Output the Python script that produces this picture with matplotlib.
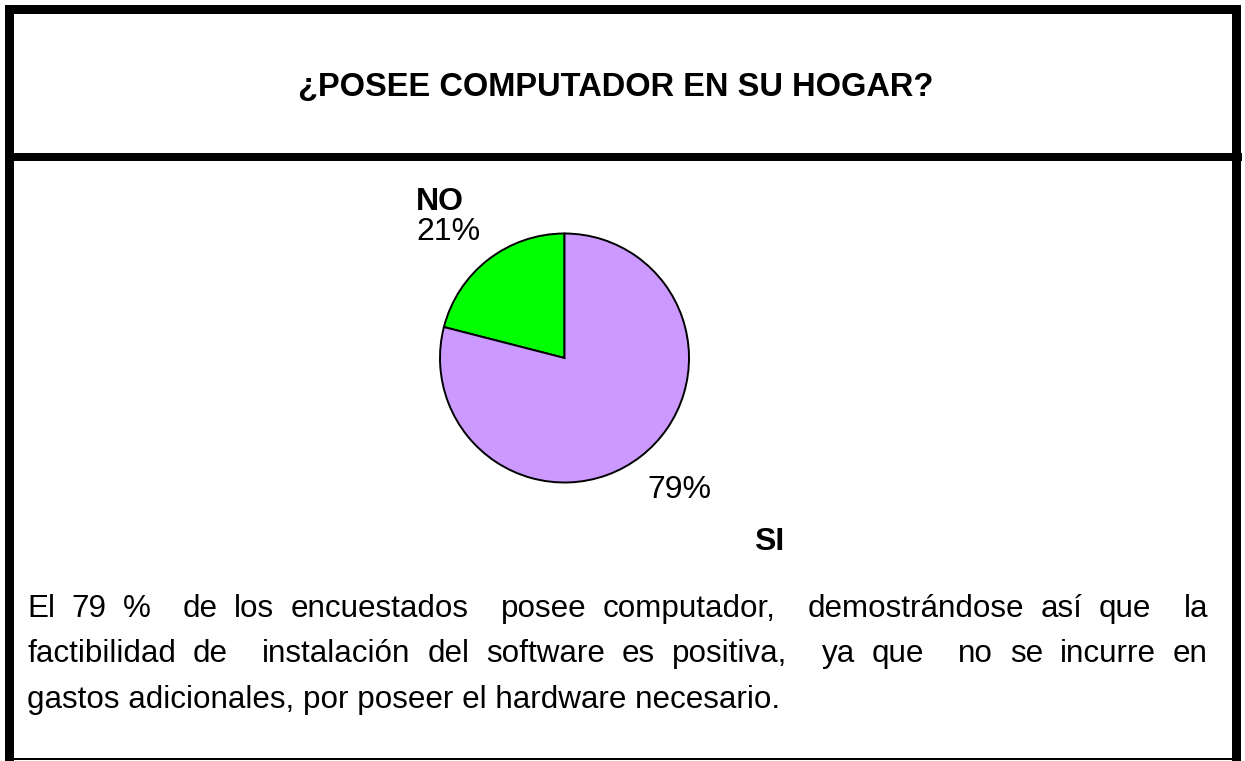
import matplotlib
matplotlib.use("Agg")
import matplotlib.pyplot as plt
from matplotlib.patches import Rectangle

plt.rcParams['font.family'] = ['Liberation Sans', 'DejaVu Sans']

W, H = 1245, 761

title = "¿POSEE COMPUTADOR EN SU HOGAR?"
labels = ["NO", "SI"]
values = [21, 79]
colors = ["#00FF00", "#CC99FF"]
body_lines = [
    "El 79 %  de los encuestados  posee computador,  demostrándose así que  la",
    "factibilidad de  instalación del software es positiva,  ya que  no se incurre en",
    "gastos adicionales, por poseer el hardware necesario.",
]


def fx(x):
    return x / W


def fy(y):
    return 1 - y / H


fig = plt.figure(figsize=(W / 100, H / 100), dpi=100)
fig.patch.set_facecolor("white")

# frame
def box(x0, y0, x1, y1):
    fig.patches.append(Rectangle((fx(x0), fy(y1)), fx(x1) - fx(x0), fy(y0) - fy(y1),
                                 transform=fig.transFigure, facecolor="black",
                                 edgecolor="none", zorder=5))

box(5, 5, 1241, 14)      # top
box(5, 5, 14, 761)       # left
box(1232, 5, 1241, 761)  # right
box(5, 153, 1242, 161)   # separator
box(5, 758, 1241, 760)   # bottom thin

fig.text(fx(616), fy(96), title, ha="center", va="baseline",
         fontsize=23.5, fontweight="bold")

# pie
cx, cy, r = 564.5, 358, 124.5
ax = fig.add_axes([fx(cx - r), fy(cy + r), 2 * r / W, 2 * r / H])
ax.pie(values, colors=colors, startangle=90, counterclock=True,
       wedgeprops=dict(edgecolor="black", linewidth=1.4))
ax.set_xlim(-1, 1)
ax.set_ylim(-1, 1)
ax.set_aspect("auto")
ax.axis("off")

fs_lab = 23
fig.text(fx(416), fy(210), labels[0], fontsize=fs_lab, fontweight="bold",
         ha="left", va="baseline")
fig.text(fx(416), fy(240), f"{values[0]}%", fontsize=fs_lab,
         ha="left", va="baseline")
fig.text(fx(647), fy(498), f"{values[1]}%", fontsize=fs_lab,
         ha="left", va="baseline")
fig.text(fx(754), fy(550), labels[1], fontsize=fs_lab, fontweight="bold",
         ha="left", va="baseline")

# justified paragraph
fs_body = 22.6
x_left, x_right = 27, 1208
baselines = [617, 662, 708]
renderer = fig.canvas.get_renderer()
for i, line in enumerate(body_lines):
    y = fy(baselines[i])
    if i == len(body_lines) - 1:
        fig.text(fx(x_left), y, line, fontsize=fs_body, ha="left", va="baseline")
        continue
    tokens = line.split(" ")
    words = [t for t in tokens if t]
    n_spaces = len(tokens) - 1
    texts = []
    widths = []
    for w in words:
        t = fig.text(0, y, w, fontsize=fs_body, ha="left", va="baseline")
        texts.append(t)
        widths.append(t.get_window_extent(renderer).width)
    gap = (x_right - x_left - sum(widths)) / n_spaces
    x = x_left
    k = 0
    for tok in tokens:
        if tok:
            texts[k].set_x(fx(x))
            x += widths[k]
            k += 1
        x += gap

fig.savefig("out.png", dpi=100, facecolor="white")
